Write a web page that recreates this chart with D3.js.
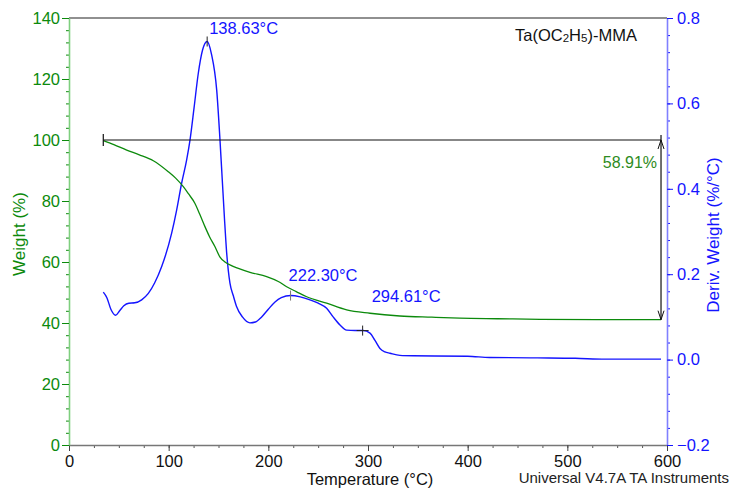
<!DOCTYPE html>
<html>
<head>
<meta charset="utf-8">
<script src="https://cdn.jsdelivr.net/npm/d3@7"></script>
<style>
  body { margin: 0; background: #fff; }
  text { font-family: "Liberation Sans", Arial, sans-serif; }
</style>
</head>
<body>
<div id="chart"></div>
<script>
// weight curve (green)
const weightTemps = [34.4, 45, 57.9, 70, 84.6, 99.6, 107, 114.7, 120, 126.4, 131, 136.4, 141, 146.5, 151.5, 156.5, 163, 169.9, 181.6, 198.3, 210, 218.4, 228, 238.5, 258.5, 278.6, 302, 332, 364, 392, 430, 473, 530, 594]
const weightValues = [99.8, 98.5, 96.7, 95.2, 93.2, 89.6, 87.5, 84.7, 82.3, 79.2, 75.8, 71.6, 68.3, 65.0, 61.6, 60.0, 58.8, 57.9, 56.6, 55.2, 53.6, 51.9, 50.3, 48.6, 46.5, 44.3, 43.2, 42.3, 41.9, 41.6, 41.4, 41.2, 41.12, 41.09]

// derivative curve (blue)
const derivTemps = [34.4, 38, 42, 46.8, 51, 55, 60, 66, 72.9, 79.6, 86, 93, 103, 108, 113, 118, 121.4, 125.5, 129.7, 134, 138.6, 143, 148.2, 151.5, 153.8, 156, 158.2, 161.5, 164.8, 168, 174, 181.6, 187, 193.3, 200, 206.7, 213, 222.4, 232, 241.8, 250, 258.5, 265, 271.9, 278.6, 287, 295.3, 302, 307, 312, 317, 322, 332, 345, 400, 422, 470, 508, 538, 594]
const derivValues = [0.158, 0.145, 0.118, 0.104, 0.115, 0.126, 0.132, 0.133, 0.140, 0.155, 0.180, 0.218, 0.296, 0.350, 0.413, 0.467, 0.514, 0.590, 0.670, 0.725, 0.745, 0.715, 0.631, 0.514, 0.420, 0.330, 0.250, 0.179, 0.150, 0.125, 0.100, 0.086, 0.088, 0.100, 0.118, 0.135, 0.145, 0.150, 0.147, 0.140, 0.132, 0.120, 0.100, 0.081, 0.069, 0.068, 0.068, 0.062, 0.045, 0.026, 0.018, 0.015, 0.010, 0.009, 0.008, 0.005, 0.004, 0.003, 0.001, 0.001]

// annotations
const peakTemps = [138.63, 222.30, 294.61]
const peakLabels = ["138.63°C", "222.30°C", "294.61°C"]
const lossStart = { temp: 34.4, weight: 100 }
const lossEnd = { temp: 594, weight: 41.09 }
const lossLabel = "58.91%"

const xTicks = [0, 100, 200, 300, 400, 500, 600]
const weightTicks = [0, 20, 40, 60, 80, 100, 120, 140]
const derivTicks = [-0.2, 0.0, 0.2, 0.4, 0.6, 0.8]

const green = "#0c8a0c"
const blue = "#1414ff"

const W = 733, H = 493
const margin = { top: 18, right: 66, bottom: 48, left: 69 }
const width = W - margin.left - margin.right
const height = H - margin.top - margin.bottom

const svg = d3.select("#chart").append("svg")
    .attr("width", W)
    .attr("height", H)
const g = svg.append("g")
    .attr("transform", `translate(${margin.left},${margin.top})`)

const x = d3.scaleLinear().domain([0, 600]).range([0, width])
const yW = d3.scaleLinear().domain([0, 140]).range([height, 0])
const yD = d3.scaleLinear().domain([-0.2, 0.8]).range([height, 0])

// frame top
g.append("line")
    .attr("x1", 0).attr("x2", width).attr("y1", 0).attr("y2", 0)
    .attr("stroke", "#222").attr("stroke-width", 1.2)

// minor ticks
g.append("g")
    .attr("transform", `translate(0,${height})`)
    .call(d3.axisBottom(x).tickValues(d3.range(0, 601, 25)).tickSize(3).tickFormat("").tickSizeOuter(0))
    .call(a => a.selectAll("line").attr("stroke", "#555"))
    .call(a => a.select(".domain").remove())
g.append("g")
    .call(d3.axisLeft(yW).tickValues(d3.range(0, 141, 4)).tickSize(3).tickFormat("").tickSizeOuter(0))
    .call(a => a.selectAll("line").attr("stroke", green))
    .call(a => a.select(".domain").remove())
g.append("g")
    .attr("transform", `translate(${width},0)`)
    .call(d3.axisRight(yD).tickValues(d3.range(-0.2, 0.801, 0.04)).tickSize(3).tickFormat("").tickSizeOuter(0))
    .call(a => a.selectAll("line").attr("stroke", blue))
    .call(a => a.select(".domain").remove())

// major axes
const xAxis = g.append("g")
    .attr("transform", `translate(0,${height})`)
    .call(d3.axisBottom(x).tickValues(xTicks).tickSize(6).tickPadding(4).tickSizeOuter(0))
xAxis.select(".domain").attr("stroke", "#777").attr("stroke-width", 1.5)
xAxis.selectAll("line").attr("stroke", "#444")
xAxis.selectAll("text").attr("fill", "#111").attr("font-size", 16.5)
    .attr("font-family", "Liberation Sans, Arial, sans-serif")

const yAxisL = g.append("g")
    .call(d3.axisLeft(yW).tickValues(weightTicks).tickSize(7).tickPadding(2).tickSizeOuter(0))
yAxisL.select(".domain").attr("stroke", "#7fcf7f").attr("stroke-width", 1.6)
yAxisL.selectAll("line").attr("stroke", green)
yAxisL.selectAll("text").attr("fill", green).attr("font-size", 16.5)
    .attr("font-family", "Liberation Sans, Arial, sans-serif")

const yAxisR = g.append("g")
    .attr("transform", `translate(${width},0)`)
    .call(d3.axisRight(yD).tickValues(derivTicks).tickSize(6).tickPadding(4).tickSizeOuter(0)
        .tickFormat(d3.format(".1f")))
yAxisR.select(".domain").attr("stroke", "#8080ff").attr("stroke-width", 1.6)
yAxisR.selectAll("line").attr("stroke", blue)
yAxisR.selectAll("text").attr("fill", blue).attr("font-size", 16.5)
    .attr("font-family", "Liberation Sans, Arial, sans-serif")

// curves
const weightData = weightTemps.map((t, i) => ({ t: t, v: weightValues[i] }))
const derivData = derivTemps.map((t, i) => ({ t: t, v: derivValues[i] }))

g.append("path")
    .datum(derivData)
    .attr("fill", "none")
    .attr("stroke", blue)
    .attr("stroke-width", 1.4)
    .attr("d", d3.line().x(d => x(d.t)).y(d => yD(d.v)).curve(d3.curveMonotoneX))

g.append("path")
    .datum(weightData)
    .attr("fill", "none")
    .attr("stroke", green)
    .attr("stroke-width", 1.3)
    .attr("d", d3.line().x(d => x(d.t)).y(d => yW(d.v)).curve(d3.curveMonotoneX))

// weight loss step: horizontal line at 100% and double arrow
const lx0 = x(lossStart.temp), lx1 = x(lossEnd.temp)
const ly0 = yW(lossStart.weight), ly1 = yW(lossEnd.weight)
g.append("line")
    .attr("x1", lx0).attr("x2", lx1).attr("y1", ly0).attr("y2", ly0)
    .attr("stroke", "#111").attr("stroke-width", 1.2)
g.append("line")
    .attr("x1", lx0).attr("x2", lx0).attr("y1", ly0 - 6).attr("y2", ly0 + 6)
    .attr("stroke", "#111").attr("stroke-width", 1.2)
g.append("line")
    .attr("x1", lx1).attr("x2", lx1).attr("y1", ly0 - 5).attr("y2", ly1)
    .attr("stroke", "#111").attr("stroke-width", 1.2)
g.append("path")
    .attr("d", `M${lx1 - 3},${ly0 + 9}L${lx1},${ly0}L${lx1 + 3},${ly0 + 9}`)
    .attr("fill", "none").attr("stroke", "#111").attr("stroke-width", 1)
g.append("path")
    .attr("d", `M${lx1 - 3},${ly1 - 9}L${lx1},${ly1}L${lx1 + 3},${ly1 - 9}`)
    .attr("fill", "none").attr("stroke", "#111").attr("stroke-width", 1)
g.append("text")
    .attr("x", lx1 - 4).attr("y", ly0 + 28)
    .attr("text-anchor", "end")
    .attr("font-size", 16)
    .attr("fill", "#2e8b22")
    .text(lossLabel)

// peak markers and labels
const derivAt = t => {
    const i = d3.bisector(d => d.t).left(derivData, t)
    if (i <= 0) return derivData[0].v
    const a = derivData[i - 1], b = derivData[i]
    return a.v + (b.v - a.v) * (t - a.t) / (b.t - a.t)
}
const labelOffsets = [[2, -7], [-2, -15], [9, -29]]
peakTemps.forEach((t, i) => {
    const px = x(t), py = yD(i === 0 ? 0.745 : derivAt(t))
    g.append("line")
        .attr("x1", px).attr("x2", px).attr("y1", py - 5).attr("y2", py + 5)
        .attr("stroke", i === 1 ? "#777" : "#222").attr("stroke-width", 1)
    if (i === 2) {
        g.append("line")
            .attr("x1", px - 6).attr("x2", px + 6).attr("y1", py).attr("y2", py)
            .attr("stroke", "#222").attr("stroke-width", 1)
    }
    g.append("text")
        .attr("x", px + labelOffsets[i][0]).attr("y", py + labelOffsets[i][1])
        .attr("font-size", 16.5)
        .attr("fill", blue)
        .text(peakLabels[i])
})

// sample name
const title = svg.append("text")
    .attr("x", 515).attr("y", 41)
    .attr("font-size", 16.5)
    .attr("fill", "#111")
title.append("tspan").text("Ta(OC")
title.append("tspan").attr("font-size", 11.5).attr("dy", 1).text("2")
title.append("tspan").attr("dy", -1).text("H")
title.append("tspan").attr("font-size", 11.5).attr("dy", 1).text("5")
title.append("tspan").attr("dy", -1).text(")-MMA")

// axis titles
svg.append("text")
    .attr("x", 370).attr("y", 485)
    .attr("text-anchor", "middle")
    .attr("font-size", 16.5)
    .attr("fill", "#111")
    .text("Temperature (°C)")

svg.append("text")
    .attr("x", 729).attr("y", 483)
    .attr("text-anchor", "end")
    .attr("font-size", 15)
    .attr("fill", "#222")
    .text("Universal V4.7A TA Instruments")

svg.append("text")
    .attr("transform", "translate(25,234) rotate(-90)")
    .attr("text-anchor", "middle")
    .attr("font-size", 17)
    .attr("fill", green)
    .text("Weight (%)")

svg.append("text")
    .attr("transform", "translate(719,235) rotate(-90)")
    .attr("text-anchor", "middle")
    .attr("font-size", 17)
    .attr("fill", blue)
    .text("Deriv. Weight (%/°C)")
</script>
</body>
</html>
